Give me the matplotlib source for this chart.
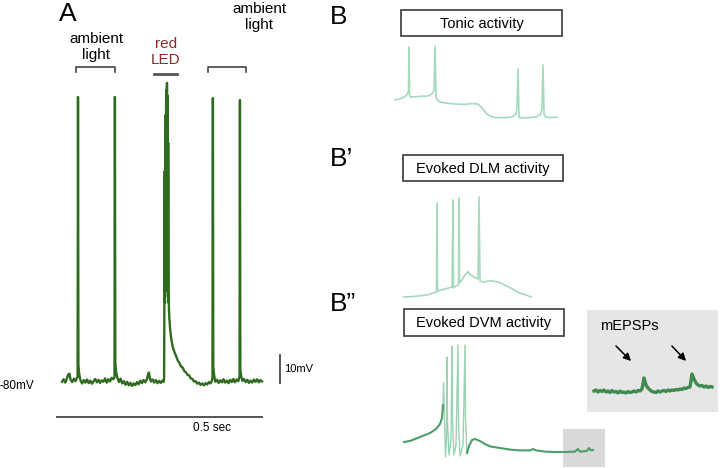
import matplotlib
matplotlib.use("Agg")
import matplotlib.pyplot as plt
from matplotlib.patches import Rectangle

plt.rcParams['font.family'] = ['Liberation Sans', 'DejaVu Sans']

# ---- panel A: membrane potential (ms, mV) ----
t_a = [0, 4, 8, 12, 15, 18, 21, 25, 29, 33, 36, 38, 39, 40, 42, 45, 49, 53, 57, 61,
       65, 69, 73, 77, 81, 85, 89, 93, 97, 101, 105, 109, 113, 117, 121, 125, 128, 129, 130, 132,
       135, 139, 143, 147, 151, 155, 159, 163, 167, 171, 175, 179, 183, 187, 191, 195, 199, 203, 207, 210,
       212, 214, 217, 221, 225, 229, 233, 237, 241, 245, 248, 249, 250, 250.5, 251, 252, 252.5, 253, 253.5, 254,
       254.5, 255, 255.5, 256, 256.5, 257, 257.5, 258, 258.5, 259, 259.5, 260, 261, 262, 264, 267, 270, 274, 278, 282,
       286, 290, 294, 298, 302, 306, 310, 314, 318, 322, 326, 330, 334, 338, 342, 346, 350, 354, 358, 362,
       366, 367, 368, 369, 371, 374, 378, 382, 386, 390, 394, 398, 402, 406, 410, 414, 418, 422, 426, 430,
       432, 433, 434, 435, 437, 440, 444, 448, 452, 456, 460, 464, 468, 472, 476, 480, 484, 488]
v_a = [-80.3, -79.4, -80.6, -79.1, -77.8, -77.4, -79.6, -80.4, -79.2, -80.1, -79.0, -78.6, 21.4, -74.5, -77.5, -79.8, -80.9, -79.7, -80.6, -79.5,
       -80.8, -79.9, -81.0, -80.1, -79.3, -80.5, -79.6, -80.7, -79.8, -80.3, -79.1, -80.6, -79.4, -80.2, -78.9, -79.4, -78.8, 21.4, -73.5, -76.8,
       -78.9, -80.4, -79.2, -80.9, -80.1, -81.4, -80.3, -81.6, -80.7, -81.8, -80.9, -81.5, -80.4, -81.2, -79.9, -80.8, -79.7, -80.5, -79.4, -77.6,
       -77.0, -78.9, -80.2, -79.5, -80.6, -79.7, -80.8, -80.0, -80.7, -79.9, -80.3, -79.0, -40.0, -5.0, -52.0, 10.0, -48.0, 15.0, -45.0, 20.0,
       -47.0, 24.0, -44.0, 26.4, -40.0, 22.0, -46.0, 18.0, -50.0, 5.0, -52.0, -49.0, -55.0, -58.0, -62.0, -65.5, -67.8, -69.6, -71.0, -72.6,
       -73.5, -74.8, -75.2, -76.4, -76.9, -77.8, -78.0, -79.1, -79.3, -80.2, -80.1, -81.0, -80.6, -81.4, -80.9, -81.6, -80.8, -81.3, -80.4, -80.9,
       -79.8, -78.5, 21.0, -75.0, -78.0, -80.3, -79.6, -80.7, -79.8, -80.5, -79.4, -80.6, -79.9, -80.8, -79.6, -80.4, -79.3, -80.5, -79.5, -80.1,
       -79.0, -78.4, 20.3, -76.0, -78.3, -80.0, -79.3, -80.4, -79.6, -80.7, -79.9, -80.6, -79.5, -80.3, -79.4, -80.5, -79.7, -80.2]

# ---- panel B: tonic activity ----
t_tonic = [0, 12, 24, 28, 29, 30, 31, 33, 36, 52, 68, 76, 80, 82, 84, 86, 92, 102, 122, 142,
           156, 168, 176, 184, 192, 202, 222, 236, 244, 246, 248, 250, 252, 268, 284, 294, 296, 298, 300, 304,
           312, 328]
v_tonic = [-70, -69.5, -68, -66.5, -65, -43.5, -67.5, -68.5, -68.5, -68.2, -68, -67, -65, -43, -68.5, -70, -71, -71.5, -72, -72.2,
           -71.8, -72, -74, -76.5, -78, -78.8, -78.8, -78.5, -77, -74, -54.5, -78, -79, -78.8, -78.5, -77, -74, -52.5, -77, -78.5,
           -78.8, -78.5]

# ---- panel B': evoked DLM activity ----
t_dlm = [0, 16, 32, 48, 60, 65, 66, 67, 76, 88, 96, 98, 99, 104, 109, 110, 111, 116, 122, 125,
         128, 131, 134, 140, 148, 150, 152, 160, 172, 184, 192, 202, 216, 232, 244, 254]
v_dlm = [-70, -69.8, -69.4, -68.9, -67.8, -67.5, -23, -67, -66.4, -65.6, -65, -21.5, -65.5, -64.4, -64, -20.5, -63, -61.5, -59, -58.2,
         -57.3, -58.6, -59, -60.1, -61, -20, -62, -62.6, -61.8, -62.3, -62.8, -64.1, -65.9, -68.1, -69, -70]

# ---- panel B'': evoked DVM activity ----
t_dvm = [0, 12, 32, 52, 64, 72, 76, 78, 79, 80, 82, 83, 85, 86, 87, 90, 94, 96, 97, 100,
         104, 108, 109, 112, 118, 122, 123, 126, 130, 136, 142, 152, 162, 172, 192, 212, 232, 252, 258, 264,
         282, 302, 322, 342, 348, 352, 366, 370, 374, 378]
v_dvm = [-70, -69.5, -67.5, -65.5, -63.5, -61, -58, -51.5, -40.5, -49, -67.5, -77.5, -69, -27.5, -59, -76.5, -69, -22, -59, -76.5,
         -71.5, -21.5, -59, -77, -71.5, -21.5, -59, -75.5, -72, -69, -68.5, -69.5, -71, -72.2, -73, -73.8, -74.2, -74.2, -73.5, -74.2,
         -74.8, -75, -75, -74.8, -73.5, -74.8, -74.5, -73, -74.2, -74]

# ---- inset: mEPSPs ----
t_mini = list(range(0, 120, 2))
v_mini = [-74.0, -73.9, -74.1, -73.95, -74.05, -73.9, -74.1, -74.0, -74.15, -73.95,
          -74.1, -74.05, -74.2, -74.0, -74.15, -74.1, -74.2, -74.05, -74.15, -74.1,
          -74.0, -74.1, -73.95, -74.0, -73.8, -72.7, -73.4, -73.7, -73.9, -74.05,
          -74.1, -74.15, -74.0, -74.1, -74.0, -73.95, -74.05, -73.9, -74.0, -73.9,
          -73.95, -73.85, -73.9, -73.8, -73.85, -73.7, -73.75, -73.65, -73.6, -72.3,
          -72.8, -73.2, -73.4, -73.5, -73.45, -73.6, -73.5, -73.65, -73.55, -73.6]

W, H = 720, 468
fig = plt.figure(figsize=(W / 100, H / 100), dpi=100)


def px_axes(x0, y0, x1, y1):
    return fig.add_axes([x0 / W, 1 - y1 / H, (x1 - x0) / W, (y1 - y0) / H])


def ftext(x, y, s, **kw):
    fig.text(x / W, 1 - y / H, s, **kw)


def fbox(x0, y0, x1, y1, label):
    fig.add_artist(Rectangle((x0 / W, 1 - y1 / H), (x1 - x0) / W, (y1 - y0) / H,
                             transform=fig.transFigure, facecolor='white',
                             edgecolor='#3a3a3a', lw=1.2))
    ftext((x0 + x1) / 2, (y0 + y1) / 2 + 1, label, ha='center', va='center', fontsize=10.5)


# panel A
axA = px_axes(40, 60, 300, 440)
axA.set_xlim(-53.7, 580.5)
axA.set_ylim(-101.1, 34.6)
axA.axis('off')
axA.plot(t_a, v_a, color='#2f6b1f', lw=1.7)
# stimulus brackets
axA.plot([34, 34, 129, 129], [30.3, 32.1, 32.1, 30.3], color='#444444', lw=1.2, clip_on=False)
axA.plot([356, 356, 449, 449], [30.3, 32.1, 32.1, 30.3], color='#444444', lw=1.2, clip_on=False)
axA.plot([224, 280], [29.6, 29.6], color='#555555', lw=2, clip_on=False)
# scale bars
axA.plot([532, 532], [-80.7, -70.7], color='#555555', lw=1.4)
axA.plot([-12, 488], [-92.9, -92.9], color='#555555', lw=1.4)
axA.text(542, -75.7, '10mV', fontsize=8, va='center', ha='left')
axA.text(366, -96.8, '0.5 sec', fontsize=8.5, va='center', ha='center')
ftext(0, 386, '-80mV', fontsize=8.5, va='center', ha='left')

ftext(59, 14, 'A', fontsize=19, va='center', ha='left')
ftext(96, 47, 'ambient\nlight', fontsize=11, ha='center', va='center', linespacing=1.15)
ftext(166, 52, 'red\nLED', fontsize=11, ha='center', va='center', color='#8b2a2a', linespacing=1.15)
ftext(259, 17, 'ambient\nlight', fontsize=11, ha='center', va='center', linespacing=1.15)

# panel B labels
ftext(330, 17, 'B', fontsize=19, va='center', ha='left')
ftext(330, 159, 'B\u2019', fontsize=19, va='center', ha='left')
ftext(330, 304, 'B\u201d', fontsize=19, va='center', ha='left')

fbox(401, 10, 562, 36, 'Tonic activity')
fbox(403, 155, 563, 181, 'Evoked DLM activity')
fbox(404, 309, 564, 336, 'Evoked DVM activity')

# B tonic
axT = px_axes(394, 40, 558, 125)
axT.set_xlim(0, 328)
axT.set_ylim(-82.5, -40)
axT.axis('off')
axT.plot(t_tonic, v_tonic, color='#a6dabf', lw=1.2)

# B' DLM
axD = px_axes(394, 190, 560, 305)
axD.set_xlim(-20, 312)
axD.set_ylim(-74, -16.5)
axD.axis('off')
axD.plot(t_dlm, v_dlm, color='#a6dabf', lw=1.2)

# B'' DVM: spikes faint, sub-threshold parts darker
axV = px_axes(394, 335, 610, 470)
axV.set_xlim(-20, 412)
axV.set_ylim(-84, -16.5)
axV.axis('off')
axV.add_patch(Rectangle((318, -82.5), 84, 19, facecolor='#d9d9d9', edgecolor='none', zorder=0))
axV.plot(t_dvm, v_dvm, color='#9ad3b3', lw=1.0, zorder=2)
axV.plot(t_dvm[:8], v_dvm[:8], color='#4f9e6c', lw=1.5, zorder=3)
axV.plot(t_dvm[27:], v_dvm[27:], color='#4f9e6c', lw=1.5, zorder=3)

# inset
axI = px_axes(587, 310, 718, 412)
axI.set_xlim(-7, 124)
axI.set_ylim(-76.1, -65.9)
axI.set_facecolor('#e6e6e6')
axI.set_xticks([])
axI.set_yticks([])
for s in axI.spines.values():
    s.set_visible(False)
axI.plot(t_mini, v_mini, color='#3f8b4f', lw=2.4)
axI.text(6, -67.5, 'mEPSPs', fontsize=10.5, va='center', ha='left')
for x0, x1 in [(20, 39), (76, 94)]:
    axI.annotate('', xy=(x1, -71.2), xytext=(x0, -69.3),
                 arrowprops=dict(arrowstyle='-|>', color='black', lw=1.1, mutation_scale=11))

fig.savefig('out.png', dpi=100, facecolor='white')
